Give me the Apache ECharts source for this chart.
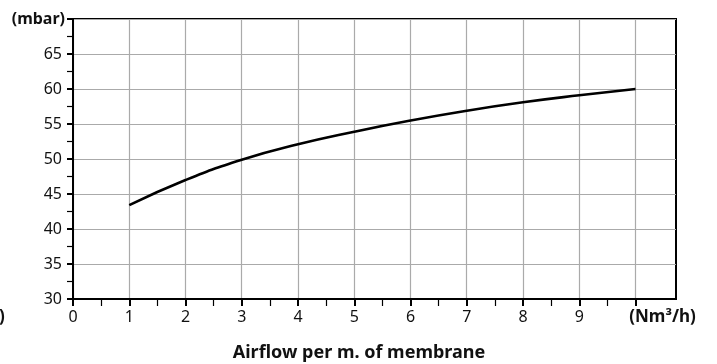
<!DOCTYPE html>
<html>
<head>
<meta charset="utf-8">
<script src="https://cdn.jsdelivr.net/npm/echarts@6/dist/echarts.min.js"></script>
<style>html,body{margin:0;padding:0;background:#fff;}#c{width:717px;height:364px;}</style>
</head>
<body>
<div id="c"></div>
<script>
var xValues = [1, 2, 3, 4, 5, 6, 7, 8, 9, 10];
var pressure = [43.4, 47.0, 49.9, 52.1, 53.9, 55.5, 56.9, 58.1, 59.1, 60.0];
var xTicks = [0, 1, 2, 3, 4, 5, 6, 7, 8, 9, 10];
var xMinorTicks = [0.5, 1.5, 2.5, 3.5, 4.5, 5.5, 6.5, 7.5, 8.5, 9.5];
var xUnit = '(Nm³/h)';
var yUnit = '(mbar)';
var xTitle = 'Airflow per m. of membrane';

var FONT = '"Noto Sans", Lato, "DejaVu Sans", sans-serif';
var chart = echarts.init(document.getElementById('c'), null, {renderer: 'canvas'});
var data = xValues.map(function (x, i) { return [x, pressure[i]]; });

chart.setOption({
  animation: false,
  grid: {left: 73, right: 41, top: 19, bottom: 65, show: true, borderColor: '#000', borderWidth: 2, backgroundColor: 'transparent'},
  title: {
    text: xTitle, left: 354, top: 339, textAlign: 'center',
    textStyle: {fontFamily: FONT, fontSize: 18, fontWeight: 'bold', color: '#111'}
  },
  xAxis: [{
    type: 'value', min: 0, max: 10.72,
    axisLine: {show: true, lineStyle: {color: '#000', width: 2}},
    axisTick: {show: true, inside: false, length: 7, customValues: xTicks, lineStyle: {color: '#000', width: 2}},
    axisLabel: {
      customValues: xTicks, margin: 10, color: '#111', fontFamily: FONT, fontSize: 16,
      formatter: function (v) { return v === 10 ? '{u|' + xUnit + '}' : String(v); },
      rich: {u: {fontFamily: FONT, fontSize: 17, fontWeight: 'bold', color: '#111', padding: [0, 0, 0, 54]}}
    },
    splitLine: {show: true, lineStyle: {color: '#aaaaaa', width: 1.2}}
  }, {
    type: 'value', min: 0, max: 10.72, position: 'bottom',
    axisLine: {show: false},
    axisTick: {show: true, inside: false, length: 7, customValues: xMinorTicks, lineStyle: {color: '#000', width: 1.2}},
    axisLabel: {show: false},
    splitLine: {show: false}
  }],
  yAxis: {
    type: 'value', min: 30, max: 70, interval: 5,
    name: yUnit, nameLocation: 'end', nameGap: 0,
    nameTextStyle: {fontFamily: FONT, fontSize: 16, fontWeight: 'bold', color: '#111', align: 'right', verticalAlign: 'middle', padding: [0, 8, 0, 0]},
    axisLine: {show: true, lineStyle: {color: '#000', width: 2}},
    axisTick: {show: true, inside: false, length: 6, lineStyle: {color: '#000', width: 2}},
    minorTick: {show: true, splitNumber: 2, length: 6, lineStyle: {color: '#000', width: 1.2}},
    axisLabel: {
      margin: 11, color: '#111', fontFamily: FONT, fontSize: 16,
      formatter: function (v) { return v >= 70 ? '' : String(v); }
    },
    splitLine: {show: true, lineStyle: {color: '#aaaaaa', width: 1.2}}
  },
  graphic: [{
    type: 'text', left: -1, top: 309,
    style: {text: ')', fontFamily: FONT, fontSize: 17, fontWeight: 'bold', fill: '#111'}
  }],
  series: [{
    type: 'line', data: data, smooth: true, showSymbol: false, symbol: 'none',
    xAxisIndex: 0,
    lineStyle: {color: '#000', width: 2.6}
  }]
});
</script>
</body>
</html>
